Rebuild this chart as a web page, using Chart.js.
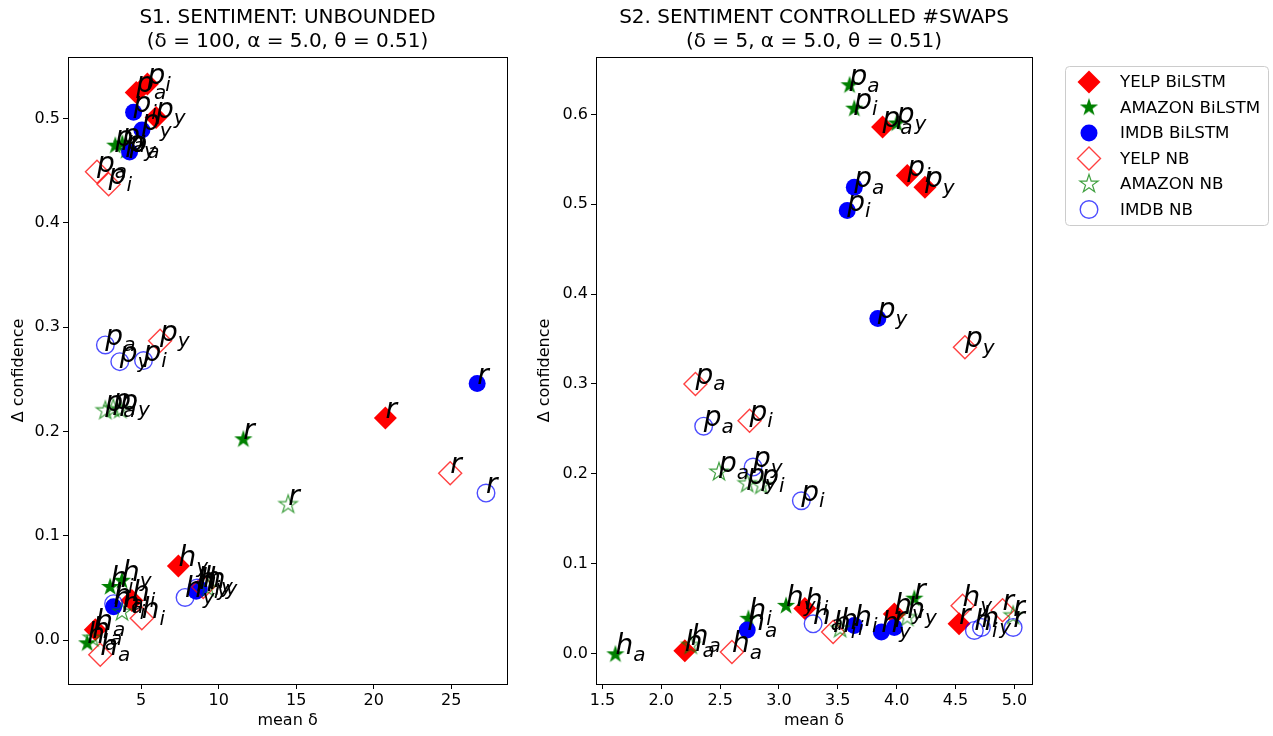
<!DOCTYPE html>
<html>
<head>
<meta charset="utf-8">
<script src="https://cdn.jsdelivr.net/npm/chart.js@4.4.0/dist/chart.umd.min.js"></script>
<style>
    html, body { margin: 0; padding: 0; background: #fff; }
    #wrap { position: relative; width: 1273px; height: 736px; }
    #s1 { position: absolute; left: 0; top: 0; }
    #s2 { position: absolute; left: 520px; top: 0; }
</style>
</head>
<body>
<div id="wrap">
    <canvas id="s1" width="520" height="736"></canvas>
    <canvas id="s2" width="753" height="736"></canvas>
</div>
<script>
// every series has one point per tag, in this order
const pointTags = ['pa', 'pi', 'py', 'ha', 'hi', 'hy', 'r'];
const seriesNames = ['YELP BiLSTM', 'AMAZON BiLSTM', 'IMDB BiLSTM', 'YELP NB', 'AMAZON NB', 'IMDB NB'];

// S1 (unbounded)
const s1YelpBiX   = [4.68, 5.40, 5.96, 2.04, 4.40, 7.40, 20.75];
const s1YelpBiY   = [0.525, 0.533, 0.501, 0.010, 0.038, 0.071, 0.213];
const s1AmazonBiX = [3.33, 3.78, 4.04, 1.52, 3.00, 3.76, 11.59];
const s1AmazonBiY = [0.474, 0.476, 0.469, -0.003, 0.051, 0.057, 0.1925];
const s1ImdbBiX   = [4.25, 4.51, 5.05, 3.22, 8.55, 8.75, 26.67];
const s1ImdbBiY   = [0.468, 0.506, 0.489, 0.032, 0.047, 0.049, 0.246];
const s1YelpNbX   = [2.15, 2.90, 6.22, 2.36, 5.04, 9.00, 24.93];
const s1YelpNbY   = [0.449, 0.437, 0.287, -0.014, 0.021, 0.051, 0.160];
const s1AmazonNbX = [2.69, 3.20, 3.65, 1.85, 3.76, 9.30, 14.48];
const s1AmazonNbY = [0.220, 0.222, 0.221, 0.002, 0.027, 0.050, 0.130];
const s1ImdbNbX   = [2.69, 5.15, 3.62, 3.22, 8.60, 7.83, 27.24];
const s1ImdbNbY   = [0.283, 0.268, 0.267, 0.035, 0.050, 0.041, 0.141];

// S2 (controlled #swaps)
const s2YelpBiX   = [3.88, 4.09, 4.24, 2.20, 3.22, 3.98, 4.53];
const s2YelpBiY   = [0.586, 0.532, 0.519, 0.003, 0.050, 0.044, 0.033];
const s2AmazonBiX = [3.60, 3.64, 4.00, 1.61, 2.74, 3.06, 4.15];
const s2AmazonBiY = [0.6325, 0.6065, 0.590, -0.001, 0.0386, 0.053, 0.061];
const s2ImdbBiX   = [3.64, 3.58, 3.84, 2.73, 3.64, 3.87, 3.98];
const s2ImdbBiY   = [0.519, 0.493, 0.373, 0.026, 0.031, 0.024, 0.029];
const s2YelpNbX   = [2.29, 2.75, 4.58, 2.60, 3.46, 4.56, 4.90];
const s2YelpNbY   = [0.300, 0.259, 0.341, 0.0015, 0.024, 0.053, 0.048];
const s2AmazonNbX = [2.49, 2.85, 2.73, 2.25, 3.52, 4.09, 4.99];
const s2AmazonNbY = [0.202, 0.187, 0.189, 0.009, 0.0275, 0.040, 0.042];
const s2ImdbNbX   = [2.36, 3.19, 2.78, 3.29, 4.66, 4.72, 4.99];
const s2ImdbNbY   = [0.253, 0.170, 0.2075, 0.033, 0.0256, 0.029, 0.029];

const s1XTicks = [5, 10, 15, 20, 25];
const s1YTicks = [0, 0.1, 0.2, 0.3, 0.4, 0.5];
const s2XTicks = [1.5, 2, 2.5, 3, 3.5, 4, 4.5, 5];
const s2YTicks = [0, 0.1, 0.2, 0.3, 0.4, 0.5, 0.6];

const FONT = 'DejaVu Sans';

// 5-point star markers (chart.js 'star' is an asterisk, not what we want)
function makeStar(filled, color) {
    const c = document.createElement('canvas');
    c.width = 24; c.height = 24;
    const g = c.getContext('2d');
    g.beginPath();
    for (let k = 0; k < 10; k++) {
        const r = k % 2 === 0 ? 9.6 : 9.6 * 0.382;
        const a = -Math.PI / 2 + k * Math.PI / 5;
        const px = 12 + r * Math.cos(a), py = 12 + r * Math.sin(a);
        if (k === 0) g.moveTo(px, py); else g.lineTo(px, py);
    }
    g.closePath();
    if (filled) {
        g.fillStyle = color; g.fill();
    } else {
        g.strokeStyle = color; g.lineWidth = 1.2; g.stroke();
    }
    return c;
}
const starFull = makeStar(true, '#008000');
const starHollow = makeStar(false, 'rgba(0,128,0,0.75)');

const styles = [
    { pointStyle: 'rectRot', pointRadius: 11.5, backgroundColor: '#ff0000', borderColor: '#ff0000', borderWidth: 0 },
    { pointStyle: starFull, pointRadius: 9, backgroundColor: '#008000', borderColor: '#008000', borderWidth: 0 },
    { pointStyle: 'circle', pointRadius: 8.5, backgroundColor: '#0000ff', borderColor: '#0000ff', borderWidth: 0 },
    { pointStyle: 'rectRot', pointRadius: 11.5, backgroundColor: 'rgba(0,0,0,0)', borderColor: 'rgba(255,0,0,0.75)', borderWidth: 1.4 },
    { pointStyle: starHollow, pointRadius: 9, backgroundColor: 'rgba(0,0,0,0)', borderColor: 'rgba(0,128,0,0.75)', borderWidth: 1.2 },
    { pointStyle: 'circle', pointRadius: 8.8, backgroundColor: 'rgba(0,0,0,0)', borderColor: 'rgba(0,0,255,0.7)', borderWidth: 1.4 }
];

function buildDatasets(xs, ys) {
    return xs.map((xArr, si) => Object.assign({
        label: seriesNames[si],
        data: xArr.map((x, i) => ({ x: x, y: ys[si][i] })),
        order: 10 - si,   // later series on top, like matplotlib
        pointHoverRadius: styles[si].pointRadius
    }, styles[si]));
}

// the p_a / h_y / r tags written next to each point
const pointText = {
    id: 'pointText',
    afterDatasetsDraw(chart) {
        const ctx = chart.ctx;
        ctx.save();
        ctx.fillStyle = '#000';
        ctx.textBaseline = 'alphabetic';
        ctx.textAlign = 'left';
        chart.data.datasets.forEach((ds, di) => {
            chart.getDatasetMeta(di).data.forEach((pt, i) => {
                const tag = pointTags[i];
                ctx.font = 'italic 28px "' + FONT + '"';
                ctx.fillText(tag[0], pt.x, pt.y);
                if (tag.length > 1) {
                    const w = ctx.measureText(tag[0]).width;
                    ctx.font = 'italic 20px "' + FONT + '"';
                    ctx.fillText(tag.slice(1), pt.x + w, pt.y + 6.5);
                }
            });
        });
        ctx.restore();
    }
};

// full box round the plot
const frame = {
    id: 'frame',
    afterDraw(chart) {
        const a = chart.chartArea, ctx = chart.ctx;
        ctx.save();
        ctx.strokeStyle = '#000';
        ctx.lineWidth = 1;
        ctx.strokeRect(Math.round(a.left) + 0.5, Math.round(a.top) + 0.5,
            Math.round(a.right - a.left), Math.round(a.bottom - a.top));
        ctx.restore();
    }
};

// matplotlib-like legend box to the right of S2
const boxLegend = {
    id: 'boxLegend',
    afterDraw(chart) {
        const ctx = chart.ctx;
        const bx = 545, by = 66, bw = 203, bh = 159;
        ctx.save();
        ctx.strokeStyle = '#cccccc';
        ctx.lineWidth = 1;
        ctx.beginPath();
        ctx.roundRect(bx + 0.5, by + 0.5, bw, bh, 4);
        ctx.stroke();
        chart.data.datasets.forEach((ds, i) => {
            const y = 82 + i * 25.5;
            ctx.fillStyle = ds.backgroundColor;
            ctx.strokeStyle = ds.borderColor;
            ctx.lineWidth = ds.borderWidth;
            Chart.helpers.drawPoint(ctx, {
                pointStyle: ds.pointStyle, radius: ds.pointRadius,
                rotation: 0, borderWidth: ds.borderWidth
            }, 569, y);
            ctx.fillStyle = '#000';
            ctx.font = '16.7px "' + FONT + '"';
            ctx.textBaseline = 'middle';
            ctx.fillText(ds.label, 600, y + 1);
        });
        ctx.restore();
    }
};

function makeOptions(cfg) {
    return {
        responsive: false,
        animation: false,
        events: [],
        layout: { padding: { left: 0, right: cfg.padRight, top: 0, bottom: 0 } },
        plugins: {
            legend: { display: false },
            tooltip: { enabled: false },
            title: {
                display: true,
                text: cfg.title,
                color: '#000',
                fullSize: false,
                font: { family: FONT, size: 20, weight: 'normal', lineHeight: 1.2 },
                padding: { top: 6, bottom: 3 }
            }
        },
        scales: {
            x: {
                type: 'linear',
                min: cfg.xMin, max: cfg.xMax,
                afterBuildTicks: s => { s.ticks = cfg.xTicks.map(v => ({ value: v })); },
                afterFit: s => { s.height = 52; },
                grid: { display: true, drawOnChartArea: false, drawTicks: true, tickLength: 5, color: '#000' },
                border: { display: false },
                ticks: {
                    color: '#000', padding: 2, maxRotation: 0,
                    font: { family: FONT, size: 16 },
                    callback: v => cfg.xFmt(v)
                },
                title: { display: true, text: 'mean δ', color: '#000', font: { family: FONT, size: 16 }, padding: { top: 0, bottom: 6 } }
            },
            y: {
                type: 'linear',
                min: cfg.yMin, max: cfg.yMax,
                afterBuildTicks: s => { s.ticks = cfg.yTicks.map(v => ({ value: v })); },
                afterFit: s => { s.width = cfg.yWidth; },
                grid: { display: true, drawOnChartArea: false, drawTicks: true, tickLength: 5, color: '#000' },
                border: { display: false },
                ticks: {
                    color: '#000', padding: 3,
                    font: { family: FONT, size: 16 },
                    callback: v => v.toFixed(1)
                },
                title: { display: true, text: 'Δ confidence', color: '#000', font: { family: FONT, size: 16 }, padding: { top: cfg.yTitlePad, bottom: 0 } }
            }
        }
    };
}

new Chart(document.getElementById('s1'), {
    type: 'scatter',
    data: {
        datasets: buildDatasets(
            [s1YelpBiX, s1AmazonBiX, s1ImdbBiX, s1YelpNbX, s1AmazonNbX, s1ImdbNbX],
            [s1YelpBiY, s1AmazonBiY, s1ImdbBiY, s1YelpNbY, s1AmazonNbY, s1ImdbNbY])
    },
    options: makeOptions({
        title: ['S1. SENTIMENT: UNBOUNDED', '(δ = 100, α = 5.0, θ = 0.51)'],
        xMin: 0.28, xMax: 28.6, xTicks: s1XTicks, xFmt: v => String(v),
        yMin: -0.042, yMax: 0.559, yTicks: s1YTicks,
        yWidth: 68, padRight: 12, yTitlePad: 9
    }),
    plugins: [pointText, frame]
});

new Chart(document.getElementById('s2'), {
    type: 'scatter',
    data: {
        datasets: buildDatasets(
            [s2YelpBiX, s2AmazonBiX, s2ImdbBiX, s2YelpNbX, s2AmazonNbX, s2ImdbNbX],
            [s2YelpBiY, s2AmazonBiY, s2ImdbBiY, s2YelpNbY, s2AmazonNbY, s2ImdbNbY])
    },
    options: makeOptions({
        title: ['S2. SENTIMENT CONTROLLED #SWAPS', '(δ = 5, α = 5.0, θ = 0.51)'],
        xMin: 1.445, xMax: 5.15, xTicks: s2XTicks, xFmt: v => v.toFixed(1),
        yMin: -0.034, yMax: 0.664, yTicks: s2YTicks,
        yWidth: 76, padRight: 241, yTitlePad: 15
    }),
    plugins: [pointText, frame, boxLegend]
});
</script>
</body>
</html>
